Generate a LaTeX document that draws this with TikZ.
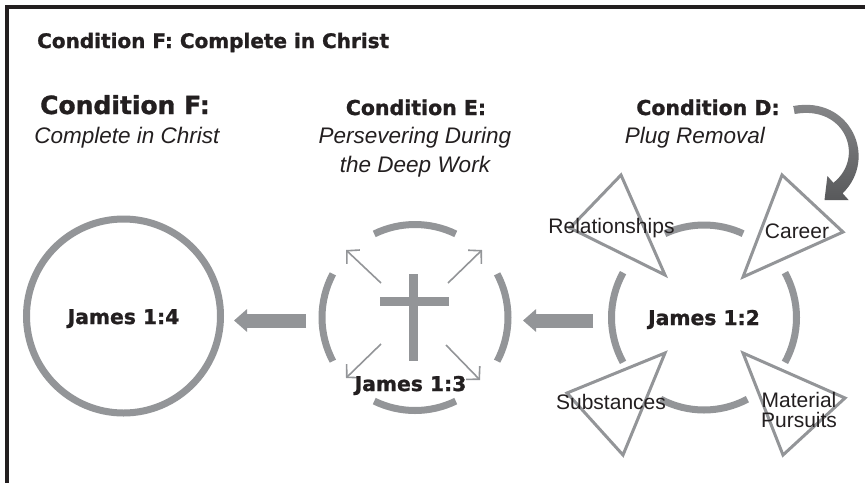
\documentclass[tikz,border=0pt]{standalone}
\usepackage{fontspec}
\setmainfont{Liberation Sans}
\newfontfamily\heavy{DejaVu Sans}[BoldFeatures={FakeBold=1.2}]
\usetikzlibrary{arrows.meta}
\definecolor{ink}{HTML}{231F20}
\definecolor{shapegray}{HTML}{939598}
\definecolor{darkarrow}{HTML}{58595B}
\definecolor{lightarrow}{HTML}{8A8B8D}
\tikzset{
  txt/.style={inner sep=0pt, text=ink},
  head/.style={txt, anchor=base, font=\heavy\bfseries\fontsize{20.5}{24}\selectfont},
  sub/.style={txt, anchor=base, font=\itshape\fontsize{22.5}{24}\selectfont},
  lab/.style={txt, font=\fontsize{21}{19.5}\selectfont, align=center},
  jam/.style={txt, anchor=base, font=\heavy\bfseries\fontsize{20.3}{22}\selectfont},
  ring/.style={draw=shapegray, line width=7pt},
  seg/.style={draw=shapegray, line width=7pt},
  crossbar/.style={draw=shapegray, line width=9pt},
  tri/.style={draw=shapegray, line width=3pt, line join=miter},
  thin/.style={draw=shapegray, line width=1.6pt, -{Straight Barb[length=9pt,width=19pt,line width=1.6pt]}},
  block/.style={draw=shapegray, line width=14pt, -{Triangle[length=13pt,width=22pt]}},
}
\begin{document}
\begin{tikzpicture}[x=1pt,y=-1pt]
\useasboundingbox (0,0) rectangle (865,483);
\fill[white] (0,0) rectangle (865,483);
% frame
\coordinate (fr1) at (865,7);
\coordinate (fr2) at (7,7);
\coordinate (fr3) at (7,483);
\draw[ink, line width=4pt] (fr1) -- (fr2) -- (fr3);

% headings
\node[head, anchor=base west, font=\heavy\bfseries\fontsize{20}{24}\selectfont] (title) at (37,48) {Condition F: Complete in Christ};
\node[head, font=\heavy\bfseries\fontsize{25}{28}\selectfont] (hF) at (125,114) {Condition F:};
\node[sub] (sF) at (127,143) {Complete in Christ};
\node[head] (hE) at (416,115) {Condition E:};
\node[sub] (sE1) at (415,143) {Persevering During};
\node[sub] (sE2) at (415,172) {the Deep Work};
\node[head] (hD) at (708,115) {Condition D:};
\node[sub] (sD) at (695,143) {Plug Removal};

% left circle
\coordinate (cF) at (123.5,316);
\draw[ring] (cF) circle[radius=97];
\node[jam] (jF) at (123.5,324) {James 1:4};

% middle cluster
\coordinate (cE) at (415,317.5);
\draw[seg] (cE) ++(244:93) arc[start angle=244, end angle=296, radius=93];
\draw[seg] (cE) ++(64:93) arc[start angle=64, end angle=116, radius=93];
\draw[seg] (cE) ++(152:93) arc[start angle=152, end angle=208, radius=93];
\draw[seg] (cE) ++(-28:93) arc[start angle=-28, end angle=28, radius=93];
% cross
\coordinate (crT) at (413.5,274);
\coordinate (crB) at (413.5,361);
\coordinate (crL) at (380,301.5);
\coordinate (crR) at (449,301.5);
\draw[crossbar] (crT) -- (crB);
\draw[crossbar] (crL) -- (crR);
% thin arrows
\coordinate (t1a) at (381,283); \coordinate (t1b) at (346,250);
\coordinate (t2a) at (448,283); \coordinate (t2b) at (482,250);
\coordinate (t3a) at (381,344); \coordinate (t3b) at (346,378);
\coordinate (t4a) at (446,345); \coordinate (t4b) at (480,380);
\draw[thin] (t1a) -- (t1b);
\draw[thin] (t2a) -- (t2b);
\draw[thin] (t3a) -- (t3b);
\draw[thin] (t4a) -- (t4b);
\node[jam] (jE) at (410.5,391) {James 1:3};

% right cluster
\coordinate (cD) at (704,317.5);
\draw[seg] (cD) ++(245:92.5) arc[start angle=245, end angle=295, radius=92.5];
\draw[seg] (cD) ++(62:92.5) arc[start angle=62, end angle=118, radius=92.5];
\draw[seg] (cD) ++(151:92.5) arc[start angle=151, end angle=209, radius=92.5];
\draw[seg] (cD) ++(-29:92.5) arc[start angle=-29, end angle=29, radius=92.5];
% triangles
\coordinate (r1) at (621,175); \coordinate (r2) at (570,228); \coordinate (r3) at (665,275);
\coordinate (c1) at (782,175); \coordinate (c2) at (843,232); \coordinate (c3) at (743,277);
\coordinate (s1) at (665,353); \coordinate (s2) at (567,393); \coordinate (s3) at (623,455);
\coordinate (m1) at (743,353); \coordinate (m2) at (845,398); \coordinate (m3) at (783,455);
\draw[tri] (r1) -- (r2) -- (r3) -- cycle;
\draw[tri] (c1) -- (c2) -- (c3) -- cycle;
\draw[tri] (s1) -- (s2) -- (s3) -- cycle;
\draw[tri] (m1) -- (m2) -- (m3) -- cycle;
\node[lab] (lr) at (611.5,228) {Relationships};
\node[lab] (lc) at (797,231) {Career};
\node[lab] (ls) at (611,402) {Substances};
\node[lab] (lm) at (799,410) {Material\\Pursuits};
\node[jam] (jD) at (704,325) {James 1:2};

% block arrows
\coordinate (b1s) at (306,320.5);
\coordinate (b1e) at (234,320.5);
\coordinate (b2s) at (593,320.5);
\coordinate (b2e) at (523,320.5);
\draw[block] (b1s) -- (b1e);
\draw[block] (b2s) -- (b2e);

% curved tapered arrow
\shade[top color=lightarrow, bottom color=darkarrow]
  (793.3,106) .. controls (850.9,95.3) and (878.4,158.7) .. (842.6,193.3)
  -- (848.6,200) -- (824.5,200) -- (827.4,176) -- (833.4,182.8)
  .. controls (865.6,157.3) and (845.1,104.7) .. (794.7,114) -- cycle;
\end{tikzpicture}
\end{document}
